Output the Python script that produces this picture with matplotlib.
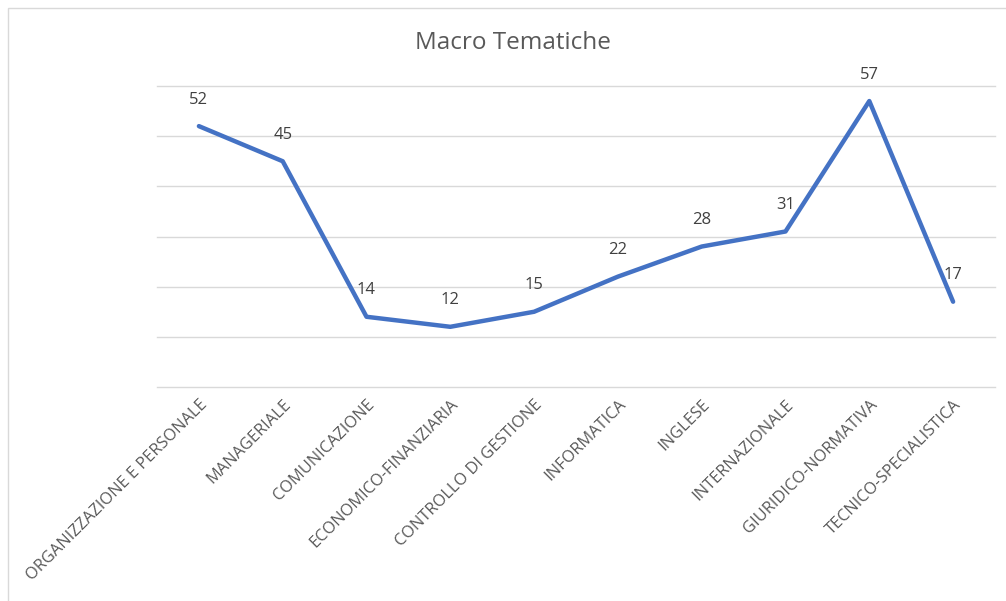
import matplotlib.pyplot as plt
from matplotlib.patches import Rectangle

categories = ["ORGANIZZAZIONE E PERSONALE", "MANAGERIALE", "COMUNICAZIONE",
              "ECONOMICO-FINANZIARIA", "CONTROLLO DI GESTIONE", "INFORMATICA",
              "INGLESE", "INTERNAZIONALE", "GIURIDICO-NORMATIVA",
              "TECNICO-SPECIALISTICA"]
values = [52, 45, 14, 12, 15, 22, 28, 31, 57, 17]

plt.rcParams['font.family'] = ['Open Sans', 'DejaVu Sans']

fig = plt.figure(figsize=(10.06, 6.01), dpi=100)
ax = fig.add_axes([157 / 1006, (601 - 387) / 601, (995 - 157) / 1006, (387 - 86) / 601])

x = list(range(len(categories)))
ax.plot(x, values, color='#4472C4', lw=3.2, solid_joinstyle='round', solid_capstyle='round')
for xi, v in zip(x, values):
    ax.annotate(str(v), (xi, v), xytext=(0, 19), textcoords='offset points',
                ha='center', va='center', fontsize=12, color='#404040')

ax.set_xlim(-0.5, len(categories) - 0.5)
ax.set_ylim(0, 60)
ax.set_yticks(range(0, 61, 10))
ax.set_yticklabels([])
ax.tick_params(axis='y', length=0)
ax.tick_params(axis='x', length=0, pad=7)
ax.grid(axis='y', color='#D9D9D9', lw=1)
for gl in ax.get_ygridlines():
    gl.set_clip_on(False)
ax.set_axisbelow(True)
for s in ax.spines.values():
    s.set_visible(False)
ax.set_xticks(x)
ax.set_xticklabels(categories, rotation=45, ha='right', rotation_mode='anchor',
                   fontsize=11.8, color='#595959')

fig.text(513 / 1006, 1 - 43 / 601, "Macro Tematiche", ha='center', va='center',
         fontsize=17.5, color='#595959')

fig.patches.append(Rectangle((8 / 1006, -0.01), 1.02, 1 - 8 / 601 + 0.01,
                             transform=fig.transFigure, fill=False,
                             edgecolor='#D9D9D9', lw=1))

fig.savefig("out.png", dpi=100)
